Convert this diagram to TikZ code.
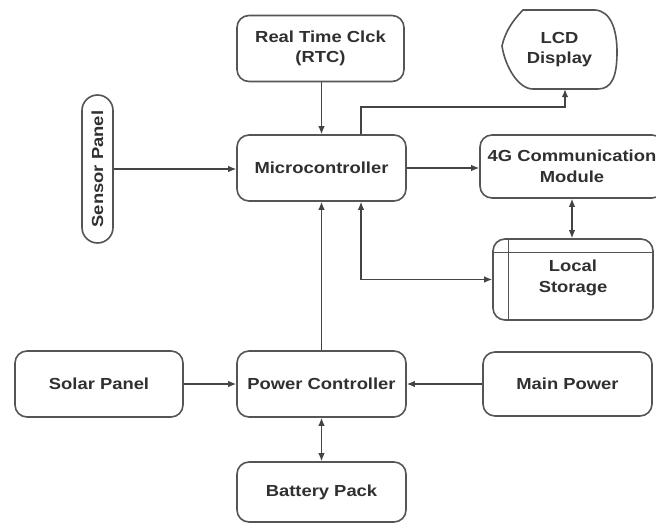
\documentclass[tikz,border=0pt]{standalone}
\usepackage{fontspec}
\newfontfamily\blockfont[FakeStretch=1.15]{Liberation Sans}
\usetikzlibrary{arrows.meta}
\definecolor{edgegray}{HTML}{555555}
\definecolor{linegray}{HTML}{444444}
\definecolor{textgray}{HTML}{303030}
\tikzset{
  block/.style={draw=edgegray, line width=1.6pt, rounded corners=12pt,
    align=center, text=textgray, inner sep=0pt,
    font=\blockfont\bfseries\fontsize{16}{20.5}\selectfont},
  arr/.style={draw=linegray, line width=1.3pt, -{Latex[length=8pt,width=6.5pt]}},
  biarr/.style={draw=linegray, line width=1.3pt, {Latex[length=8pt,width=6.5pt]}-{Latex[length=8pt,width=6.5pt]}},
}
\begin{document}
\begin{tikzpicture}[x=1pt, y=-1pt]
\path[use as bounding box] (0,0) rectangle (656,524);
\clip (0,0) rectangle (656,524);
\fill[white] (0,0) rectangle (656,524);

% blocks
\node[block, minimum width=167pt, minimum height=66pt] (rtc) at (320.5,48.5) {Real Time Clck\\(RTC)};
\node[block, minimum width=169pt, minimum height=66pt] (mcu) at (321.5,168) {Microcontroller};
\node[block, minimum width=169pt, minimum height=66pt] (pwr) at (321.5,384) {Power Controller};
\node[block, minimum width=169pt, minimum height=60pt] (bat) at (321.5,492) {Battery Pack};
\node[block, minimum width=168pt, minimum height=66pt] (solar) at (99,384) {Solar Panel};
\node[block, minimum width=169pt, minimum height=64pt] (main) at (567.5,384) {Main Power};
\node[block, minimum width=184pt, minimum height=63pt] (comm) at (572,166.5) {4G Communication\\Module};
\node[block, minimum width=148pt, minimum height=31pt, rounded corners=15.5pt, rotate=90] (sensor) at (97.5,169) {Sensor Panel};

% local storage with its inner margin lines
\node[block, minimum width=160pt, minimum height=81pt] (store) at (573,279.5) {};
\draw[edgegray, line width=1.4pt] ([yshift=-14pt]store.north west) -- ([yshift=-14pt]store.north east);
\draw[edgegray, line width=1.4pt] ([xshift=16pt]store.north west) -- ([xshift=16pt]store.south west);
\node[align=center, text=textgray, font=\blockfont\bfseries\fontsize{16}{20.5}\selectfont] at (573,278) {Local\\Storage};

% display shape
\node[minimum width=115pt, minimum height=79pt, inner sep=0pt, align=center, text=textgray,
  font=\blockfont\bfseries\fontsize{16}{20.5}\selectfont] (lcd) at (559.5,49.5) {LCD\\Display};
\draw[edgegray, line width=1.6pt] (523,10) -- (595,10)
  .. controls (611,11) and (617,30) .. (617,52)
  .. controls (617,76) and (612,89) .. (598,89) -- (533,89)
  .. controls (518,89) and (505,66) .. (502,46)
  .. controls (505,32) and (513,20) .. (523,10) -- cycle;

% connectors
\coordinate (lcdbend) at (565,107);
\coordinate (mcutap) at ([xshift=39.5pt]mcu.north);
\coordinate (mcubot) at ([xshift=39.5pt]mcu.south);
\coordinate (storebend) at (mcubot |- store.west);

\draw[arr] (rtc.south -| mcu.north) -- (mcu.north);
\draw[arr] (mcutap) -- (mcutap |- lcdbend) -- (lcdbend) -- (lcdbend |- lcd.south);
\draw[arr] (sensor.south) -- (sensor.south -| mcu.west);
\draw[arr] (mcu.east) -- (mcu.east -| comm.west);
\draw[biarr] (comm.south) -- (comm.south |- store.north);
\draw[biarr] (mcubot) -- (storebend) -- (store.west);
\draw[arr] (pwr.north) -- (mcu.south);
\draw[arr] (solar.east) -- (pwr.west);
\draw[arr] (main.west) -- (pwr.east);
\draw[biarr] (pwr.south) -- (bat.north);
\end{tikzpicture}
\end{document}
